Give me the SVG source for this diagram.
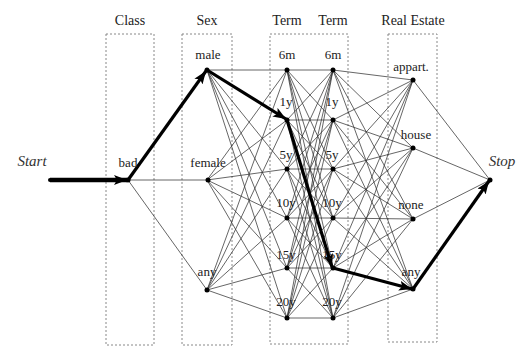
<svg xmlns="http://www.w3.org/2000/svg" width="519" height="350" viewBox="0 0 519 350">
<style>
.box{fill:none;stroke:#888;stroke-width:1;stroke-dasharray:2,2}
.hd{font-family:"Liberation Serif",serif;font-size:14px;fill:#222;text-anchor:middle}
.lb{font-family:"Liberation Serif",serif;font-size:13px;fill:#222;text-anchor:middle}
.it{font-family:"Liberation Serif",serif;font-size:15px;font-style:italic;fill:#333;text-anchor:middle}
.e{stroke:#333;stroke-width:0.75;fill:none}
.t{stroke:#000;stroke-width:3.2;fill:none;marker-end:url(#ah)}
.dot{fill:#000}
</style>
<defs>
<marker id="ah" markerUnits="userSpaceOnUse" markerWidth="14" markerHeight="10" refX="13" refY="5" orient="auto">
<path d="M0,0 L13,5 L0,10 L3,5 z" fill="#000"/>
</marker>
</defs>
<g id="columns">
<rect class="box" x="106" y="34" width="48" height="311"/>
<rect class="box" x="182" y="34" width="50" height="311"/>
<rect class="box" x="270" y="34" width="78" height="310"/>
<rect class="box" x="388" y="34" width="49" height="308"/>
<text class="hd" x="130" y="25">Class</text>
<text class="hd" x="207" y="25">Sex</text>
<text class="hd" x="287" y="25">Term</text>
<text class="hd" x="333" y="25">Term</text>
<text class="hd" x="413" y="25">Real Estate</text>
</g>
<g id="connectors">
<path class="e" d="M128,180 L207,70 M128,180 L207,180 M128,180 L207,290"/>
<path class="e" d="M207,70 L287,70 M207,70 L287,120 M207,70 L287,169 M207,70 L287,218 M207,70 L287,268 M207,70 L287,318
M207,180 L287,70 M207,180 L287,120 M207,180 L287,169 M207,180 L287,218 M207,180 L287,268 M207,180 L287,318
M207,290 L287,70 M207,290 L287,120 M207,290 L287,169 M207,290 L287,218 M207,290 L287,268 M207,290 L287,318"/>
<path class="e" d="M287,70 L333,70 M287,70 L333,120 M287,70 L333,169 M287,70 L333,218 M287,70 L333,268 M287,70 L333,318
M287,120 L333,70 M287,120 L333,120 M287,120 L333,169 M287,120 L333,218 M287,120 L333,268 M287,120 L333,318
M287,169 L333,70 M287,169 L333,120 M287,169 L333,169 M287,169 L333,218 M287,169 L333,268 M287,169 L333,318
M287,218 L333,70 M287,218 L333,120 M287,218 L333,169 M287,218 L333,218 M287,218 L333,268 M287,218 L333,318
M287,268 L333,70 M287,268 L333,120 M287,268 L333,169 M287,268 L333,218 M287,268 L333,268 M287,268 L333,318
M287,318 L333,70 M287,318 L333,120 M287,318 L333,169 M287,318 L333,218 M287,318 L333,268 M287,318 L333,318"/>
<path class="e" d="M333,70 L413,80 M333,70 L413,148 M333,70 L413,219 M333,70 L413,289
M333,120 L413,80 M333,120 L413,148 M333,120 L413,219 M333,120 L413,289
M333,169 L413,80 M333,169 L413,148 M333,169 L413,219 M333,169 L413,289
M333,218 L413,80 M333,218 L413,148 M333,218 L413,219 M333,218 L413,289
M333,268 L413,80 M333,268 L413,148 M333,268 L413,219 M333,268 L413,289
M333,318 L413,80 M333,318 L413,148 M333,318 L413,219 M333,318 L413,289"/>
<path class="e" d="M413,80 L490,180 M413,148 L490,180 M413,219 L490,180 M413,289 L490,180"/>
<line class="t" x1="50" y1="180" x2="127" y2="180" style="stroke-width:4.5"/>
<line class="t" x1="128" y1="180" x2="206" y2="71"/>
<line class="t" x1="207" y1="70" x2="286" y2="119"/>
<line class="t" x1="287" y1="120" x2="332" y2="267"/>
<line class="t" x1="333" y1="268" x2="412" y2="289"/>
<line class="t" x1="413" y1="289" x2="489" y2="181"/>
</g>
<g id="start"><circle class="dot" cx="50" cy="180" r="2"/><text class="it" x="32" y="166">Start</text></g>
<g id="bad"><circle class="dot" cx="128" cy="180" r="2.5"/><text class="lb" x="128" y="167">bad</text></g>
<g id="male"><circle class="dot" cx="207" cy="70" r="2.5"/><text class="lb" x="208" y="59">male</text></g>
<g id="female"><circle class="dot" cx="208" cy="180" r="2.5"/><text class="lb" x="208" y="167">female</text></g>
<g id="sex-any"><circle class="dot" cx="207" cy="290" r="2.5"/><text class="lb" x="207" y="276">any</text></g>
<g id="t1-6m"><circle class="dot" cx="287" cy="70" r="2.5"/><text class="lb" x="287" y="59">6m</text></g>
<g id="t1-1y"><circle class="dot" cx="287" cy="120" r="2.5"/><text class="lb" x="286" y="106">1y</text></g>
<g id="t1-5y"><circle class="dot" cx="287" cy="169" r="2.5"/><text class="lb" x="286" y="159">5y</text></g>
<g id="t1-10y"><circle class="dot" cx="287" cy="218" r="2.5"/><text class="lb" x="286" y="207">10y</text></g>
<g id="t1-15y"><circle class="dot" cx="287" cy="268" r="2.5"/><text class="lb" x="286" y="259">15y</text></g>
<g id="t1-20y"><circle class="dot" cx="287" cy="318" r="2.5"/><text class="lb" x="286" y="306">20y</text></g>
<g id="t2-6m"><circle class="dot" cx="333" cy="70" r="2.5"/><text class="lb" x="333" y="59">6m</text></g>
<g id="t2-1y"><circle class="dot" cx="333" cy="120" r="2.5"/><text class="lb" x="332" y="106">1y</text></g>
<g id="t2-5y"><circle class="dot" cx="333" cy="169" r="2.5"/><text class="lb" x="332" y="159">5y</text></g>
<g id="t2-10y"><circle class="dot" cx="333" cy="218" r="2.5"/><text class="lb" x="332" y="207">10y</text></g>
<g id="t2-15y"><circle class="dot" cx="333" cy="268" r="2.5"/><text class="lb" x="332" y="259">15y</text></g>
<g id="t2-20y"><circle class="dot" cx="333" cy="318" r="2.5"/><text class="lb" x="332" y="306">20y</text></g>
<g id="re-appart"><circle class="dot" cx="413" cy="80" r="2.5"/><text class="lb" x="411" y="71">appart.</text></g>
<g id="re-house"><circle class="dot" cx="413" cy="148" r="2.5"/><text class="lb" x="416" y="139">house</text></g>
<g id="re-none"><circle class="dot" cx="413" cy="219" r="2.5"/><text class="lb" x="411" y="209">none</text></g>
<g id="re-any"><circle class="dot" cx="413" cy="289" r="2.5"/><text class="lb" x="411" y="276">any</text></g>
<g id="stop"><circle class="dot" cx="490" cy="180" r="2.5"/><text class="it" x="502" y="166">Stop</text></g>
</svg>
